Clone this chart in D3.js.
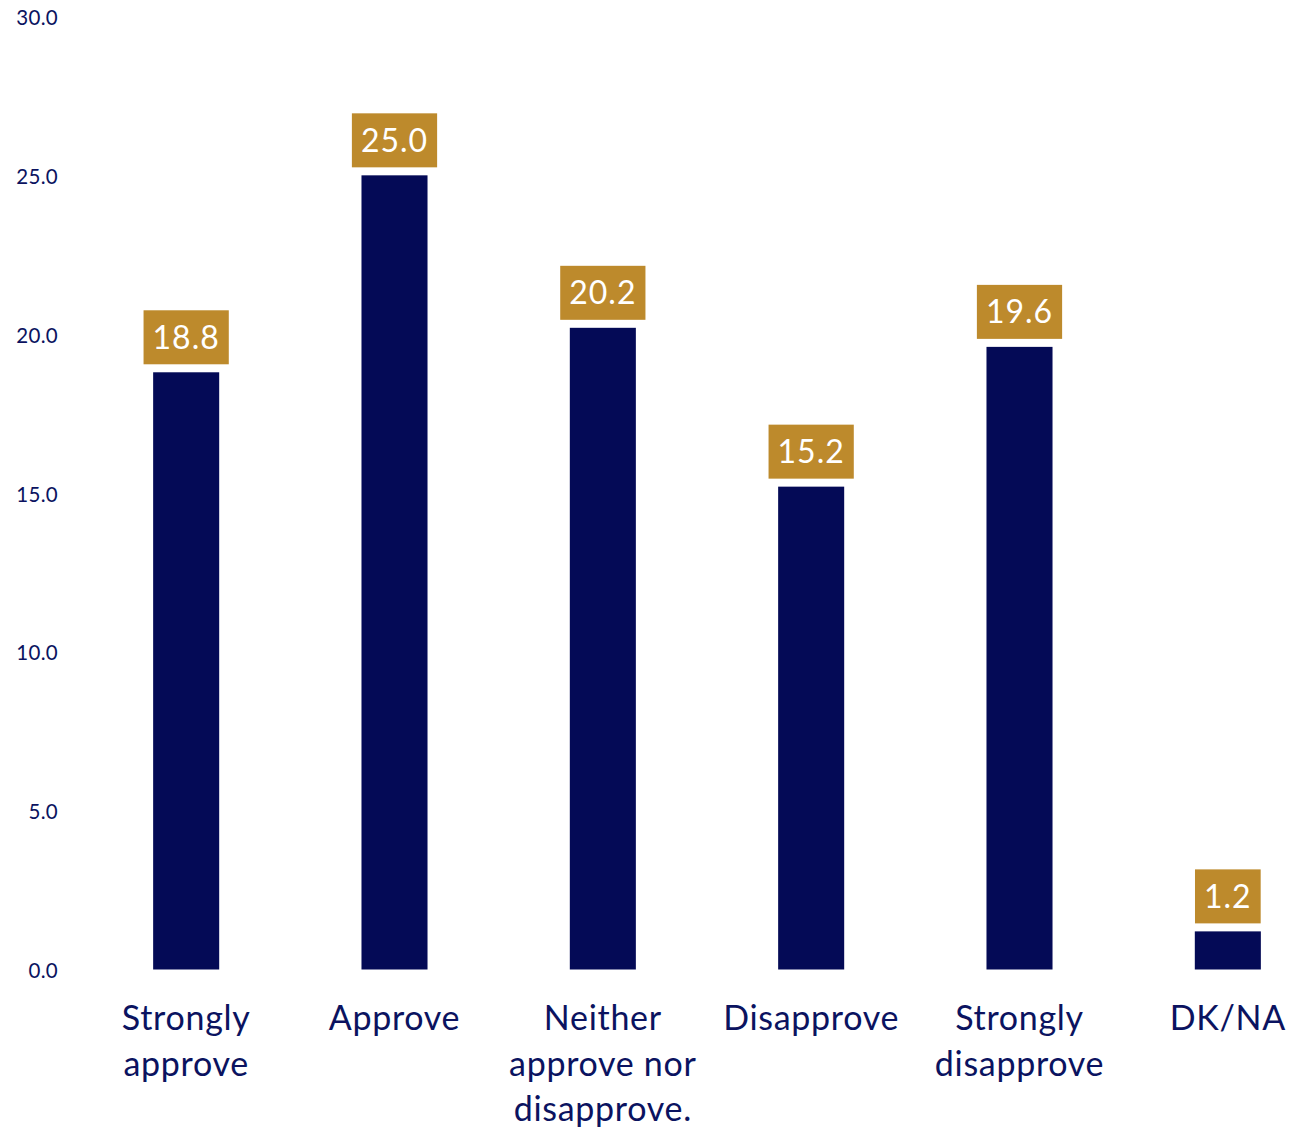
<!DOCTYPE html>
<html>
<head>
<meta charset="utf-8">
<script src="https://cdn.jsdelivr.net/npm/d3@7"></script>
<style>
  html, body { margin: 0; padding: 0; background: #ffffff; }
  svg { display: block; }
</style>
</head>
<body>
<svg id="chart" width="1303" height="1129"></svg>
<script>
const categories = ["Strongly approve", "Approve", "Neither approve nor disapprove.", "Disapprove", "Strongly disapprove", "DK/NA"];
const categoryLines = [["Strongly", "approve"], ["Approve"], ["Neither", "approve nor", "disapprove."], ["Disapprove"], ["Strongly", "disapprove"], ["DK/NA"]];
const values = [18.8, 25.0, 20.2, 15.2, 19.6, 1.2];
const yTicks = [0, 5, 10, 15, 20, 25, 30];

const svg = d3.select("#chart");
const font = "Lato, 'Open Sans', sans-serif";
const barColor = "#040a56";
const boxColor = "#bd8a2c";
const textColor = "#0b1360";

const x = d3.scaleBand().domain(categories).range([82, 1332]).paddingInner(0.683).paddingOuter(0.3415);
const y = d3.scaleLinear().domain([0, 30]).range([969.5, 16.5]);

// y axis (labels only)
const yAxis = d3.axisLeft(y).tickValues(yTicks).tickFormat(d3.format(".1f")).tickSize(0).tickPadding(0);
const gy = svg.append("g").attr("transform", "translate(58,1.5)").call(yAxis);
gy.select(".domain").remove();
gy.selectAll("text").attr("fill", textColor).style("font-family", font).style("font-size", "20.5px").style("letter-spacing", "0.3px");

// bars
svg.append("g").selectAll("rect").data(values).join("rect")
  .attr("x", (d, i) => x(categories[i]))
  .attr("y", d => y(d))
  .attr("width", x.bandwidth())
  .attr("height", d => y(0) - y(d))
  .attr("fill", barColor);

// value labels
const lg = svg.append("g").selectAll("g").data(values).join("g")
  .attr("transform", (d, i) => `translate(${x(categories[i]) + x.bandwidth() / 2},${y(d) - 8 - 27})`);
lg.append("text")
  .attr("text-anchor", "middle")
  .attr("dy", "0.36em")
  .attr("fill", "#ffffff")
  .style("font-family", font)
  .style("font-size", "32px")
  .style("letter-spacing", "1px")
  .text(d => d3.format(".1f")(d));
lg.each(function() {
  const g = d3.select(this);
  const w = g.select("text").node().getComputedTextLength();
  g.insert("rect", "text")
    .attr("x", -(w / 2 + 9))
    .attr("y", -27)
    .attr("width", w + 18)
    .attr("height", 54)
    .attr("fill", boxColor);
});

// category labels
const cg = svg.append("g").selectAll("text").data(categoryLines).join("text")
  .attr("text-anchor", "middle")
  .attr("fill", textColor)
  .style("font-family", font)
  .style("font-size", "34px")
  .style("letter-spacing", "0.7px")
  .attr("x", (d, i) => x(categories[i]) + x.bandwidth() / 2)
  .attr("y", 1030);
cg.selectAll("tspan").data(d => d).join("tspan")
  .attr("x", function() { return d3.select(this.parentNode).attr("x"); })
  .attr("y", (d, j) => 1030 + j * 45.5)
  .text(d => d);
</script>
</body>
</html>
